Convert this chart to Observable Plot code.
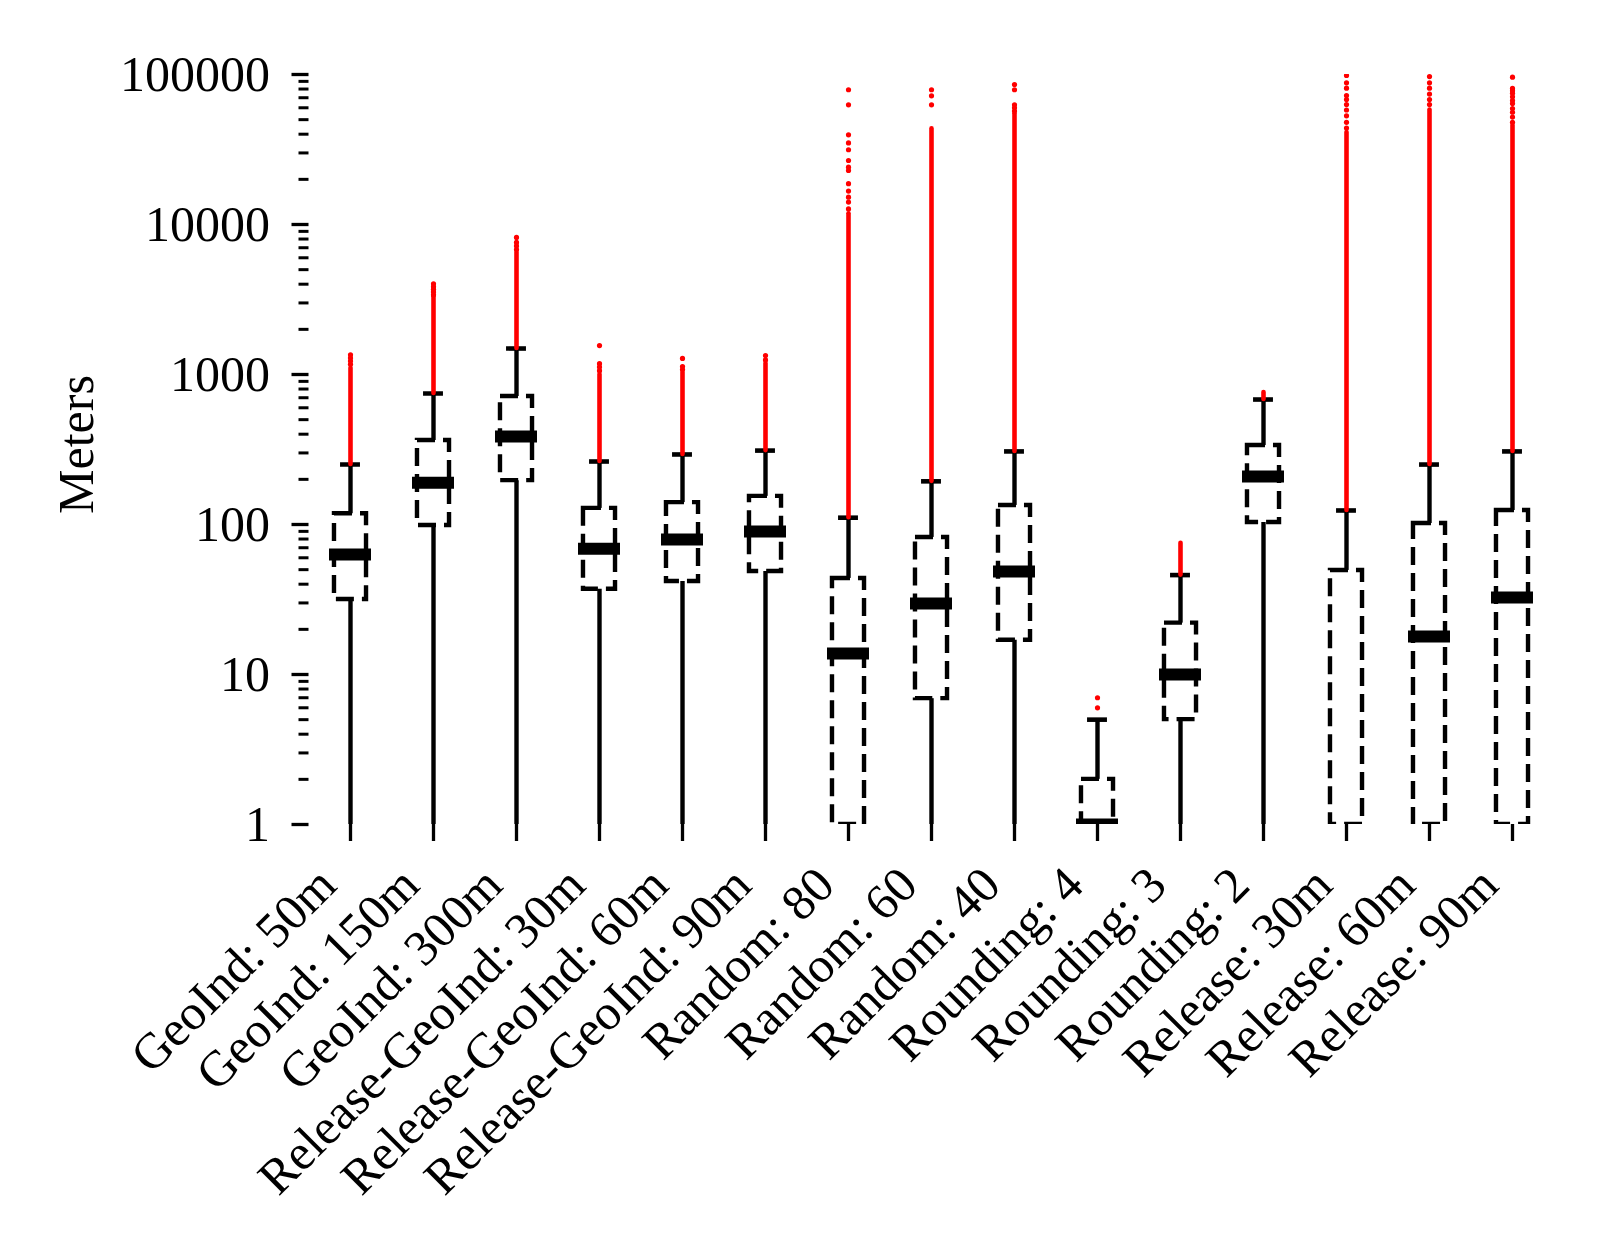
<!DOCTYPE html>
<html>
<head>
<meta charset="utf-8">
<script src="https://cdn.jsdelivr.net/npm/d3@7"></script>
<script src="https://cdn.jsdelivr.net/npm/@observablehq/plot@0.6"></script>
<style>
  html, body { margin: 0; padding: 0; background: #fff; }
  #chart { width: 1619px; height: 1237px; }
</style>
</head>
<body>
<div id="chart"></div>
<script>
// ---- data ----
const categories = [
  "GeoInd: 50m", "GeoInd: 150m", "GeoInd: 300m",
  "Release-GeoInd: 30m", "Release-GeoInd: 60m", "Release-GeoInd: 90m",
  "Random: 80", "Random: 60", "Random: 40",
  "Rounding: 4", "Rounding: 3", "Rounding: 2",
  "Release: 30m", "Release: 60m", "Release: 90m"
];
const whiskerLow  = [1, 1, 1, 1, 1, 1, 1, 1, 1, 1, 1, 1, 1, 1, 1];
const q1          = [31.6, 98.5, 196, 37, 41.7, 48.6, 1, 6.9, 16.9, 1, 5, 103, 1, 1, 1];
const median      = [63, 190, 386, 69, 79.4, 89.8, 13.8, 29.7, 48.6, 1, 10, 209, null, 17.9, 32.6];
const q3          = [118, 363, 713, 128, 140, 154, 43.7, 82, 134, 2, 22, 336, 49.4, 101.5, 124];
const whiskerHigh = [251, 747, 1490, 263, 293, 311, 111, 194, 307, 5, 46, 681, 124, 251, 307];
// top of the continuous run of outliers starting just above the upper whisker
const outlierRunTop = [1100, 3300, 6500, 1000, 1030, 1184, 11800, 43400, 54700, null, 75, 759, 41000, 58000, 45700];
// isolated outlier points above the run
const outlierPoints = [
  [1170, 1230, 1290, 1353],
  [3400, 3550, 3700, 3850, 4025],
  [6800, 7200, 7600, 8200],
  [1060, 1120, 1180, 1560],
  [1080, 1131, 1279],
  [1250, 1339],
  [12700, 14100, 15200, 16700, 18700, 22900, 24100, 26700, 31500, 35000, 39600, 62800, 79100],
  [62800, 72100, 79100],
  [57000, 60000, 62800, 79100, 85800],
  [6, 7],
  [],
  [],
  [44000, 48000, 53000, 58000, 63000, 68000, 72400, 81100, 88000, 98500],
  [63000, 68000, 74000, 81100, 88000, 96800],
  [48000, 52000, 56000, 59300, 64000, 67000, 71000, 75000, 78000, 80700, 96000]
];
const yTicks = [1, 10, 100, 1000, 10000, 100000];
const yMinorTicks = yTicks.slice(0, -1).flatMap(d => [2, 3, 4, 5, 6, 7, 8, 9].map(k => k * d));

// ---- derived tables ----
const idx = categories.map((_, i) => i);
const boxes = idx.map(i => ({i, lo: whiskerLow[i], q1: q1[i], med: median[i], q3: q3[i], hi: whiskerHigh[i], run: outlierRunTop[i]}));
const fliers = idx.flatMap(i => outlierPoints[i].map(v => ({i, v})));

const font = "'Liberation Serif', 'Times New Roman', Times, serif";
const boxHalf = 0.193, medHalf = 0.253, capHalf = 0.12;

const chart = Plot.plot({
  width: 1619,
  height: 1237,
  marginLeft: 308.5,
  marginRight: 65.5,
  marginTop: 74,
  marginBottom: 413,
  style: {fontFamily: font, background: "#fff", color: "#000"},
  x: {type: "linear", domain: [-0.5, categories.length - 0.5], axis: null},
  y: {type: "log", domain: [1, 100000], axis: null},
  marks: [
    // y axis (major + minor)
    Plot.axisY({ticks: yTicks, tickFormat: d => String(d), tickSize: 17, tickPadding: 22,
      fontSize: 50, strokeWidth: 3.3, label: null}),
    Plot.axisY({ticks: yMinorTicks, tickFormat: () => "", tickSize: 10, strokeWidth: 3, label: null}),
    // x axis ticks
    Plot.axisX({ticks: idx, tickFormat: () => "", tickSize: 17, strokeWidth: 3.3, label: null}),
    // x tick labels
    Plot.text(categories, {x: (d, i) => i, frameAnchor: "bottom", rotate: -45, textAnchor: "end",
      lineAnchor: "middle", dx: -23, dy: 52, fontSize: 50, fill: "#000"}),
    // y label
    Plot.text(["Meters"], {frameAnchor: "left", rotate: -90, textAnchor: "middle", lineAnchor: "bottom",
      dx: -216.5, dy: -5, fontSize: 50, fill: "#000"}),
    // dashed boxes
    Plot.rect(boxes, {x1: d => d.i - boxHalf, x2: d => d.i + boxHalf, y1: "q1", y2: "q3",
      fill: "none", stroke: "#000", strokeWidth: 4.4, strokeDasharray: "18,8", clip: true}),
    // whiskers
    Plot.ruleX(boxes, {x: "i", y1: "q3", y2: "hi", stroke: "#000", strokeWidth: 4.4, clip: true}),
    Plot.ruleX(boxes.filter(d => d.q1 > d.lo), {x: "i", y1: "lo", y2: "q1", stroke: "#000", strokeWidth: 4.4, clip: true}),
    // caps
    Plot.ruleY(boxes, {y: "hi", x1: d => d.i - capHalf, x2: d => d.i + capHalf, stroke: "#000", strokeWidth: 4.6, clip: true}),
    // medians
    Plot.ruleY(boxes.filter(d => d.med != null), {y: "med", x1: d => d.i - medHalf, x2: d => d.i + medHalf,
      stroke: "#000", strokeWidth: 12, clip: true}),
    // outliers: dense run and isolated points
    Plot.ruleX(boxes.filter(d => d.run != null), {x: "i", y1: "hi", y2: "run", stroke: "#ff0000",
      strokeWidth: 4.6, strokeLinecap: "round", clip: true}),
    Plot.dot(fliers, {x: "i", y: "v", r: 2.6, fill: "#ff0000", stroke: "none", clip: true})
  ]
});
document.getElementById("chart").appendChild(chart);
</script>
</body>
</html>
